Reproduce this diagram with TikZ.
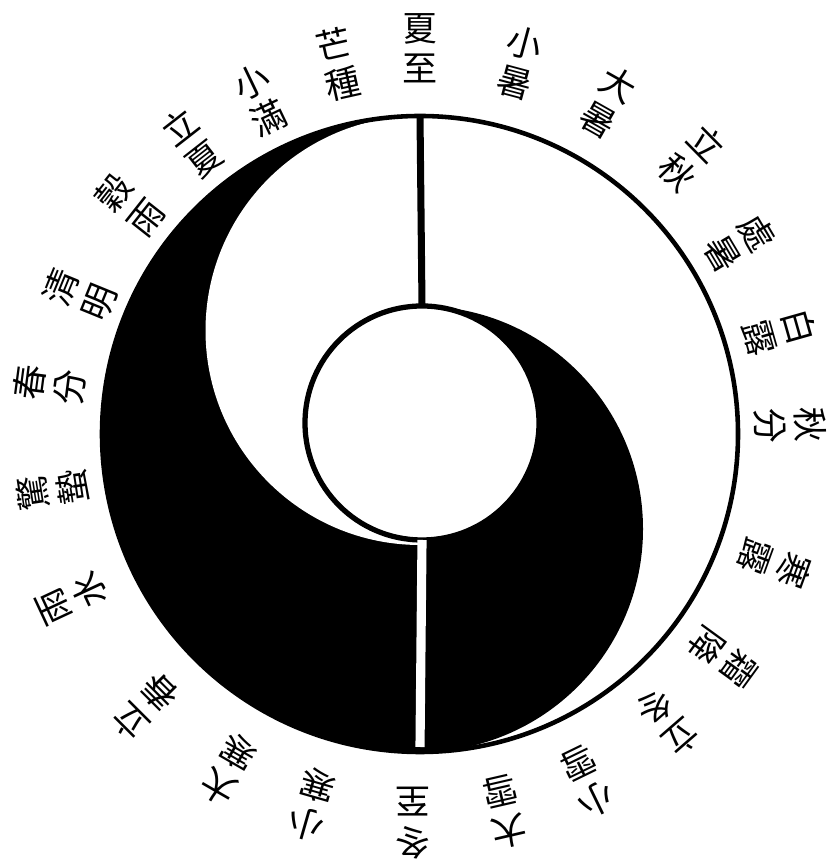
\documentclass[tikz,border=0pt]{standalone}
\usepackage{fontspec}
\newfontfamily\cjk{Noto Sans CJK TC}

\begin{document}
\begin{tikzpicture}[x=1cm, y=1cm,
	term/.style={font=\cjk\fontsize{10}{11.5}\selectfont, align=center, inner sep=0pt},
	ring/.style={shape=circle, draw, outer sep=0pt, inner sep=0pt}]
	\useasboundingbox (0, 0) rectangle (8.26, 8.64);
	% Black and white fields:
	\fill (4.2, 7.48) arc[start angle=90, end angle=270, radius=3.18] -- cycle;
	\fill[white] (4.2, 7.48) arc[start angle=90, end angle=270, radius=2.145] -- cycle;
	\fill (4.2, 5.58) arc[start angle=90, end angle=-90, radius=2.23] -- cycle;
	% Circles and lines:
	\node[ring, line width=1.3pt, minimum size=6.36cm] (outer) at (4.2, 4.3){};
	\node[ring, line width=1.5pt, fill=white, minimum size=2.34cm] (core) at (4.22, 4.41){};
	\draw[white, line width=2.6pt] (core.south) -- ([yshift=0.05cm]outer.south);
	\draw[line width=2pt] (outer.north) -- (core.north);
	% Solar terms:
	\node[term, rotate=0] (xiazhi) at (4.20, 8.16){夏\\至};
	\node[term, rotate=-15] (xiaoshu) at (5.20, 8.01){小\\暑};
	\node[term, rotate=-29.5] (dashu) at (6.08, 7.62){大\\暑};
	\node[term, rotate=-45.4] (liqiu) at (6.92, 7.06){立\\秋};
	\node[term, rotate=-59.2] (chushu) at (7.40, 6.21){處\\暑};
	\node[term, rotate=-74.2] (bailu) at (7.80, 5.32){白\\露};
	\node[term, rotate=-88.6] (qiufen) at (7.90, 4.39){秋\\分};
	\node[term, rotate=-110] (hanlu) at (7.75, 3.00){寒\\露};
	\node[term, rotate=-126] (shuangjiang) at (7.23, 2.07){霜\\降};
	\node[term, rotate=-139] (lidong) at (6.68, 1.42){立\\冬};
	\node[term, rotate=-154] (xiaoxue) at (5.88, 0.82){小\\雪};
	\node[term, rotate=-167] (daxue) at (5.05, 0.52){大\\雪};
	\node[term, rotate=180] (dongzhi) at (4.13, 0.41){冬\\至};
	\node[term, rotate=164] (xiaohan) at (3.12, 0.59){小\\寒};
	\node[term, rotate=150] (dahan) at (2.29, 0.94){大\\寒};
	\node[term, rotate=135] (lichun) at (1.45, 1.57){立\\春};
	\node[term, rotate=115] (yushui) at (0.72, 2.66){雨\\水};
	\node[term, rotate=98.7] (jingzhe) at (0.53, 3.74){驚\\蟄};
	\node[term, rotate=82.5] (chunfen) at (0.50, 4.79){春\\分};
	\node[term, rotate=67.8] (qingming) at (0.80, 5.69){清\\明};
	\node[term, rotate=51.7] (guyu) at (1.30, 6.59){穀\\雨};
	\node[term, rotate=38] (lixia) at (1.92, 7.21){立\\夏};
	\node[term, rotate=25.6] (xiaoman) at (2.60, 7.64){小\\滿};
	\node[term, rotate=12.5] (mangzhong) at (3.38, 8.00){芒\\種};
\end{tikzpicture}
\end{document}
